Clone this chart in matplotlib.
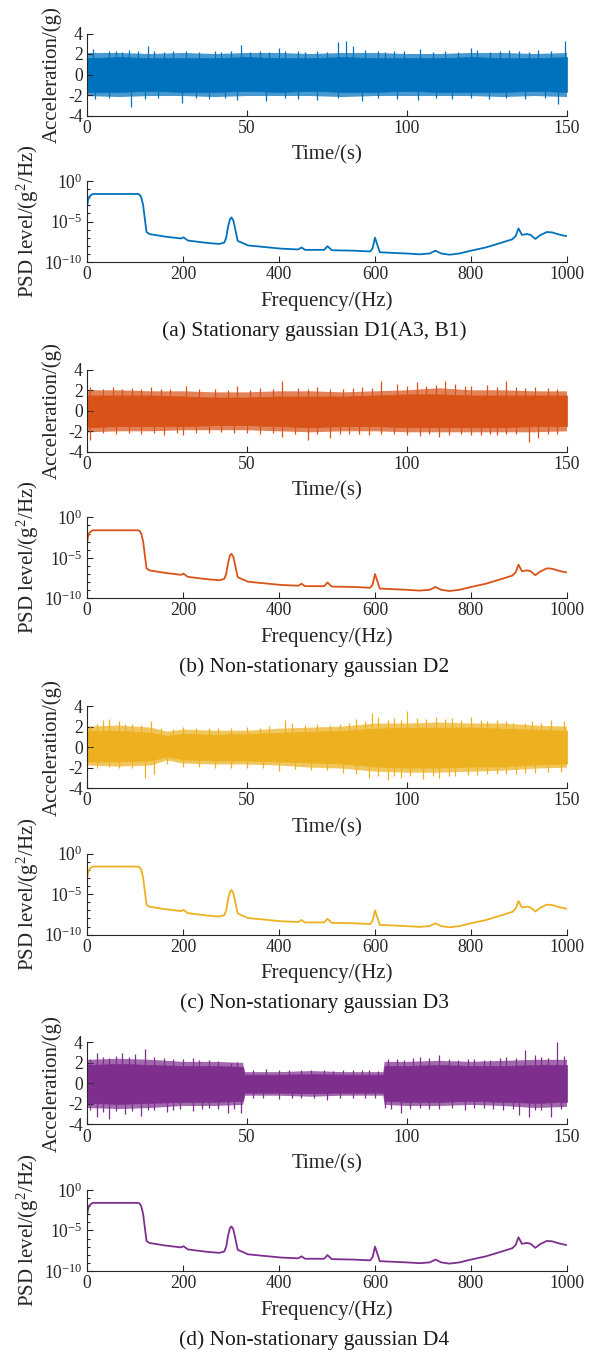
import numpy as np
import matplotlib
matplotlib.use('Agg')
import matplotlib.pyplot as plt

plt.rcParams['font.family'] = ['Liberation Serif', 'DejaVu Serif']
plt.rcParams['mathtext.fontset'] = 'custom'
plt.rcParams['mathtext.rm'] = 'Liberation Serif'
plt.rcParams['mathtext.it'] = 'Liberation Serif:italic'
plt.rcParams['axes.unicode_minus'] = False

# ---------------- data ----------------
colors = ['#0072BD', '#D95319', '#EDB120', '#7E2F8E']
captions = ['(a) Stationary gaussian D1(A3, B1)',
            '(b) Non-stationary gaussian D2',
            '(c) Non-stationary gaussian D3',
            '(d) Non-stationary gaussian D4']

time_ticks = [0, 50, 100, 150]
acc_ticks = [-4, -2, 0, 2, 4]
freq_ticks = [0, 200, 400, 600, 800, 1000]
psd_ticks = [1e-10, 1e-5, 1e0]
psd_ticklabels = ['$10^{-10}$', '$10^{-5}$', '$10^{0}$']

# Acceleration records (time in s, g): solid core band, fuzzy outer band, visible spikes
d1_t = [0, 10, 20, 30, 40, 50, 60, 70, 80, 90, 100, 110, 120, 130, 140, 150]
d1_core_up = [1.6, 1.7, 1.6, 1.6, 1.6, 1.7, 1.6, 1.6, 1.7, 1.6, 1.6, 1.6, 1.7, 1.6, 1.6, 1.7]
d1_core_lo = [-1.7, -1.7, -1.6, -1.7, -1.7, -1.6, -1.7, -1.6, -1.7, -1.7, -1.6, -1.7, -1.7, -1.7, -1.6, -1.7]
d1_fringe_up = [2.1, 2.1, 2.0, 2.1, 2.0, 2.1, 2.1, 2.0, 2.1, 2.1, 2.0, 2.0, 2.1, 2.1, 2.0, 2.1]
d1_fringe_lo = [-2.1, -2.2, -2.1, -2.1, -2.2, -2.1, -2.1, -2.1, -2.2, -2.1, -2.1, -2.1, -2.1, -2.2, -2.1, -2.2]
d1_spk_up_t = [2, 7, 9, 11, 13, 16, 19, 21, 24, 27, 31, 35, 40, 42, 45, 48, 51, 54, 57, 60,
               62, 66, 68, 72, 75, 78.5, 81, 83, 87, 91, 93, 96, 99, 104, 108, 112, 116, 120, 122, 126,
               129, 132, 135, 138, 141, 145, 149.4]
d1_spk_up_v = [2.5, 2.3, 2.3, 2.2, 2.4, 2.3, 2.8, 2.3, 2.2, 2.3, 2.3, 2.2, 2.3, 2.2, 2.3, 2.9, 2.2, 2.3, 2.2, 2.6,
               2.3, 2.3, 2.2, 2.3, 2.2, 3.2, 3.3, 2.8, 2.4, 2.3, 2.2, 2.3, 2.3, 2.5, 2.2, 2.3, 2.2, 2.6, 2.4, 2.2,
               2.3, 2.4, 2.3, 2.2, 2.4, 2.3, 3.3]
d1_spk_lo_t = [2.5, 7, 13.6, 18, 22.3, 29.6, 34, 38, 43, 47, 56, 62, 66, 72, 78.5, 86, 91, 97, 103.5, 109,
               114, 120, 125.5, 131, 137, 143, 147.3]
d1_spk_lo_v = [-2.4, -2.3, -3.2, -2.4, -2.3, -2.8, -2.3, -2.4, -2.3, -2.5, -2.6, -2.3, -2.4, -2.5, -2.3, -2.6,
               -2.3, -2.4, -2.5, -2.3, -2.4, -2.3, -2.4, -2.3, -2.4, -2.3, -2.9]

d2_t = [0, 10, 20, 30, 40, 50, 60, 70, 80, 90, 100, 110, 120, 130, 140, 150]
d2_core_up = [1.5, 1.5, 1.5, 1.4, 1.3, 1.3, 1.4, 1.4, 1.4, 1.5, 1.6, 1.6, 1.5, 1.5, 1.5, 1.5]
d2_core_lo = [-1.6, -1.5, -1.5, -1.5, -1.4, -1.4, -1.5, -1.6, -1.5, -1.5, -1.6, -1.6, -1.6, -1.6, -1.5, -1.5]
d2_fringe_up = [2.0, 2.0, 1.9, 1.9, 1.8, 1.8, 1.9, 1.9, 1.8, 1.9, 2.0, 2.2, 2.0, 2.0, 1.9, 1.9]
d2_fringe_lo = [-2.1, -2.0, -2.0, -1.9, -1.9, -1.9, -2.0, -2.1, -2.0, -2.0, -2.1, -2.1, -2.1, -2.1, -2.1, -2.0]
d2_spk_up_t = [1, 5, 8, 11, 14, 17, 20, 23, 26, 31, 35, 40, 44, 47, 51, 54, 58, 61, 66, 69,
               72, 76, 80, 83, 86, 89, 92, 97, 100, 103, 106, 109, 112, 115, 118, 120, 125, 128, 131, 134,
               137, 140, 144, 147]
d2_spk_up_v = [2.3, 2.1, 2.3, 2.1, 2.2, 2.1, 2.3, 2.1, 2.1, 2.4, 2.1, 2.1, 2.0, 2.4, 2.0, 2.2, 2.1, 2.9, 2.2, 2.1,
               2.3, 2.1, 2.1, 2.2, 2.3, 2.2, 2.9, 2.6, 2.4, 2.8, 2.4, 2.5, 2.9, 2.6, 2.4, 2.4, 2.5, 2.3, 2.9, 2.3,
               2.2, 2.3, 2.2, 2.1]
d2_spk_lo_t = [1, 5, 9, 13, 17, 21, 24, 28, 30, 34, 38, 42, 46, 50, 54, 58, 61, 65, 69, 72,
               76, 79, 82, 85, 88, 92, 96, 100, 104, 107, 110, 113, 117, 120, 123, 126, 128, 131, 134, 138,
               141, 144, 147]
d2_spk_lo_v = [-2.8, -2.2, -2.3, -2.2, -2.3, -2.2, -2.4, -2.2, -2.4, -2.2, -2.2, -2.1, -2.2, -2.2, -2.3, -2.2,
               -2.6, -2.3, -2.8, -2.3, -2.7, -2.3, -2.3, -2.3, -2.4, -2.3, -2.3, -2.4, -2.5, -2.3, -2.6, -2.4,
               -2.3, -2.4, -2.4, -2.3, -2.4, -2.3, -2.3, -3.0, -2.7, -2.3, -2.3]

d3_t = [0, 10, 20, 25, 30, 40, 50, 60, 70, 80, 90, 100, 110, 120, 130, 140, 150]
d3_core_up = [1.6, 1.6, 1.4, 1.1, 1.3, 1.2, 1.3, 1.4, 1.5, 1.6, 1.8, 1.9, 1.9, 1.9, 1.8, 1.7, 1.6]
d3_core_lo = [-1.4, -1.4, -1.3, -0.9, -1.2, -1.3, -1.3, -1.4, -1.5, -1.6, -1.9, -2.0, -2.0, -1.9, -1.9, -1.7, -1.6]
d3_fringe_up = [2.0, 2.1, 1.9, 1.5, 1.7, 1.6, 1.6, 1.8, 1.9, 2.0, 2.3, 2.3, 2.4, 2.3, 2.3, 2.1, 2.0]
d3_fringe_lo = [-1.8, -1.9, -1.8, -1.3, -1.6, -1.7, -1.7, -1.8, -2.0, -2.1, -2.4, -2.5, -2.5, -2.4, -2.3, -2.1, -2.0]
d3_spk_up_t = [1, 3, 5, 7, 10, 12, 14, 17, 20, 23, 27, 30, 34, 38, 41, 45, 50, 54, 57, 62,
               64, 68, 72, 76, 79, 82, 84, 87, 89, 91, 94, 96, 98, 100, 103, 106, 109, 112, 114, 117,
               120, 123, 125, 128, 131, 133, 137, 139, 142, 145, 149]
d3_spk_up_v = [2.1, 2.3, 2.6, 2.7, 2.5, 2.3, 2.3, 2.2, 2.5, 1.9, 1.8, 2.0, 1.9, 1.9, 1.9, 1.9, 2.0, 1.9, 2.1, 2.6,
               2.4, 2.2, 2.3, 2.2, 2.3, 2.4, 2.7, 2.5, 3.3, 2.9, 2.6, 2.8, 2.6, 3.5, 2.8, 2.7, 2.9, 2.7, 2.8, 2.6,
               2.9, 2.6, 2.5, 2.6, 2.5, 2.4, 2.4, 2.5, 2.4, 2.6, 2.5]
d3_spk_lo_t = [3, 7, 10, 14, 18, 21, 25, 30, 35, 40, 45, 50, 55, 60, 65, 70, 75, 80, 84, 88,
               91, 94, 96, 98, 101, 105, 108, 110, 113, 115, 119, 122, 125, 128, 131, 134, 137, 140, 144, 148]
d3_spk_lo_v = [-2.0, -1.9, -2.0, -2.0, -3.0, -2.6, -1.6, -1.9, -1.9, -2.0, -2.0, -2.0, -2.0, -2.3, -2.1, -2.2,
               -2.2, -2.5, -2.6, -3.0, -2.8, -3.2, -2.8, -3.0, -2.8, -3.1, -2.8, -3.0, -2.8, -2.8, -2.7, -2.7,
               -2.6, -2.6, -2.6, -2.6, -2.5, -2.5, -2.4, -2.4]

d4_t = [0, 10, 20, 30, 40, 48.8, 49.2, 60, 70, 80, 92.6, 93.0, 100, 110, 120, 130, 140, 150]
d4_core_up = [1.8, 1.9, 1.8, 1.7, 1.7, 1.6, 0.85, 0.85, 0.9, 0.85, 0.85, 1.7, 1.7, 1.8, 1.7, 1.7, 1.8, 1.8]
d4_core_lo = [-1.9, -2.0, -1.9, -1.8, -1.8, -1.7, -0.9, -0.9, -0.95, -0.9, -0.9, -1.7, -1.8, -1.8, -1.7, -1.8, -1.9, -1.8]
d4_fringe_up = [2.3, 2.4, 2.3, 2.1, 2.1, 2.0, 1.1, 1.1, 1.2, 1.1, 1.1, 2.1, 2.1, 2.2, 2.1, 2.2, 2.3, 2.3]
d4_fringe_lo = [-2.4, -2.5, -2.4, -2.2, -2.2, -2.1, -1.2, -1.2, -1.3, -1.2, -1.2, -2.1, -2.2, -2.2, -2.1, -2.2, -2.4, -2.3]
d4_spk_up_t = [1, 3, 5, 7, 9, 11, 13, 15, 18, 21, 24, 27, 30, 33, 35, 38, 41, 45, 47, 52,
               56, 60, 63, 67, 70, 74, 77, 80, 83, 86, 88, 91, 94, 97, 99, 102, 104, 107, 110, 113,
               116, 119, 121, 124, 126, 129, 131, 134, 137, 140, 142, 144, 147, 149]
d4_spk_up_v = [2.4, 3.0, 2.6, 2.5, 2.7, 3.0, 2.6, 2.9, 3.4, 2.6, 2.5, 2.4, 2.4, 2.5, 2.3, 2.3, 2.2, 2.0, 2.1, 1.3,
               1.4, 1.3, 1.3, 1.3, 1.3, 1.3, 1.2, 1.3, 1.3, 1.3, 1.3, 1.2, 2.4, 2.4, 2.3, 2.5, 2.6, 2.5, 2.8, 2.4,
               2.3, 2.4, 2.4, 2.3, 2.3, 2.5, 2.6, 2.5, 3.3, 2.8, 2.6, 2.5, 4.0, 2.7]
d4_spk_lo_t = [1, 3, 5, 7, 9, 12, 14, 17, 19, 21, 25, 27, 29, 33, 36, 38, 41, 44, 46, 48,
               52, 55, 60, 64, 67, 71, 75, 79, 83, 87, 90, 93, 95, 98, 101, 104, 107, 110, 114, 118,
               121, 124, 127, 130, 133, 135, 138, 140, 142, 145, 148]
d4_spk_lo_v = [-2.6, -3.3, -2.8, -3.5, -2.7, -3.0, -2.7, -3.2, -2.6, -2.6, -2.8, -2.6, -2.5, -2.7, -2.5, -2.4,
               -2.5, -2.9, -2.5, -2.9, -1.4, -1.4, -1.5, -1.4, -1.4, -1.4, -1.6, -1.4, -1.4, -1.4, -1.4, -2.4,
               -2.5, -2.9, -2.5, -2.4, -2.5, -2.5, -2.4, -2.6, -2.4, -2.4, -2.5, -2.6, -2.5, -3.1, -3.3, -2.6,
               -2.6, -3.3, -2.5]

# PSD (frequency in Hz, log10 of PSD in g^2/Hz)
psd_freq = [0, 2, 5, 12, 60, 105, 109, 113, 117, 121, 124, 130, 161, 196, 201, 210, 251, 276,
            286, 290, 294, 298, 301, 305, 309, 314, 328, 335, 404, 440, 447, 454, 494, 501, 510,
            555, 590, 595, 600, 605, 610, 666, 693, 714, 726, 738, 755, 776, 800, 831, 859, 886,
            893, 899, 906, 917, 924, 934, 944, 958, 969, 983, 998]
psd_log = [-3.3, -2.4, -1.9, -1.6, -1.6, -1.6, -1.65, -2.0, -3.0, -4.9, -6.3, -6.55, -6.85, -7.1,
           -6.95, -7.35, -7.65, -7.77, -7.6, -7.0, -5.6, -4.7, -4.5, -4.9, -6.0, -7.4, -7.75, -7.95,
           -8.35, -8.45, -8.2, -8.5, -8.5, -8.05, -8.55, -8.6, -8.7, -8.3, -7.0, -7.9, -8.8, -8.95,
           -9.05, -8.95, -8.6, -8.95, -9.1, -8.95, -8.6, -8.2, -7.7, -7.2, -6.8, -5.85, -6.65, -6.55,
           -6.65, -7.15, -6.7, -6.3, -6.35, -6.6, -6.8]

signals = [
    (d1_t, d1_core_up, d1_core_lo, d1_fringe_up, d1_fringe_lo, d1_spk_up_t, d1_spk_up_v, d1_spk_lo_t, d1_spk_lo_v),
    (d2_t, d2_core_up, d2_core_lo, d2_fringe_up, d2_fringe_lo, d2_spk_up_t, d2_spk_up_v, d2_spk_lo_t, d2_spk_lo_v),
    (d3_t, d3_core_up, d3_core_lo, d3_fringe_up, d3_fringe_lo, d3_spk_up_t, d3_spk_up_v, d3_spk_lo_t, d3_spk_lo_v),
    (d4_t, d4_core_up, d4_core_lo, d4_fringe_up, d4_fringe_lo, d4_spk_up_t, d4_spk_up_v, d4_spk_lo_t, d4_spk_lo_v),
]

# ---------------- layout ----------------
W, H = 596, 1354
fig = plt.figure(figsize=(W / 100, H / 100), dpi=100)
fig.patch.set_facecolor('white')

left_px, width_px = 87, 480
group_dy = 336.3
spine_col = '#262626'
tick_fs = 12.7
lab_fs = 15


def ax_at(top_px, height_px):
    return fig.add_axes([left_px / W, 1 - (top_px + height_px) / H, width_px / W, height_px / H])


def style(ax):
    for s in ['top', 'right']:
        ax.spines[s].set_visible(False)
    for s in ['left', 'bottom']:
        ax.spines[s].set_color(spine_col)
        ax.spines[s].set_linewidth(0.8)
    ax.tick_params(which='both', direction='in', colors=spine_col, width=0.8,
                   labelsize=tick_fs, pad=3)
    ax.tick_params(which='major', length=4)
    ax.tick_params(which='minor', length=2.2)


psd_vals = 10.0 ** np.array(psd_log)

for k in range(4):
    off = k * group_dy
    col = colors[k]
    t, cu, cl, fu, fl, sut, suv, slt, slv = signals[k]

    # time history
    ax1 = ax_at(33.5 + off, 82)
    ax1.fill_between(t, fl, fu, facecolor=col, alpha=0.72, lw=0)
    ax1.fill_between(t, cl, cu, facecolor=col, lw=0.5, edgecolor=col)
    ax1.vlines(sut, 0, suv, color=col, lw=0.9)
    ax1.vlines(slt, slv, 0, color=col, lw=0.9)
    ax1.set_xlim(0, 150)
    ax1.set_ylim(-4, 4)
    ax1.set_xticks(time_ticks)
    ax1.set_yticks(acc_ticks)
    style(ax1)
    fig.text(52 / W, 1 - (74.5 + off) / H, 'Acceleration/(g)', rotation=90,
             ha='center', va='center', fontsize=lab_fs, color='#262626')
    fig.text(327 / W, 1 - (155 + off) / H, 'Time/(s)', ha='center', va='center',
             fontsize=lab_fs, color='#262626')

    # PSD
    ax2 = ax_at(181 + off, 81)
    ax2.plot(psd_freq, psd_vals, color=col, lw=1.3)
    ax2.set_yscale('log')
    ax2.set_xlim(0, 1000)
    ax2.set_ylim(1e-10, 1e0)
    ax2.set_xticks(freq_ticks)
    ax2.set_yticks(psd_ticks)
    ax2.set_yticklabels(psd_ticklabels)
    ax2.yaxis.set_minor_locator(matplotlib.ticker.FixedLocator(
        [10.0 ** e for e in range(-9, 0) if e != -5]))
    ax2.yaxis.set_minor_formatter(matplotlib.ticker.NullFormatter())
    style(ax2)
    fig.text(28 / W, 1 - (221.5 + off) / H, 'PSD level/(g$^{2}$/Hz)', rotation=90,
             ha='center', va='center', fontsize=lab_fs, color='#262626')
    fig.text(327 / W, 1 - (301 + off) / H, 'Frequency/(Hz)', ha='center', va='center',
             fontsize=lab_fs, color='#262626')
    fig.text(314 / W, 1 - (331 + off) / H, captions[k], ha='center', va='center',
             fontsize=lab_fs + 0.5, color='#1a1a1a')

fig.savefig('out.png', dpi=100, facecolor='white')
